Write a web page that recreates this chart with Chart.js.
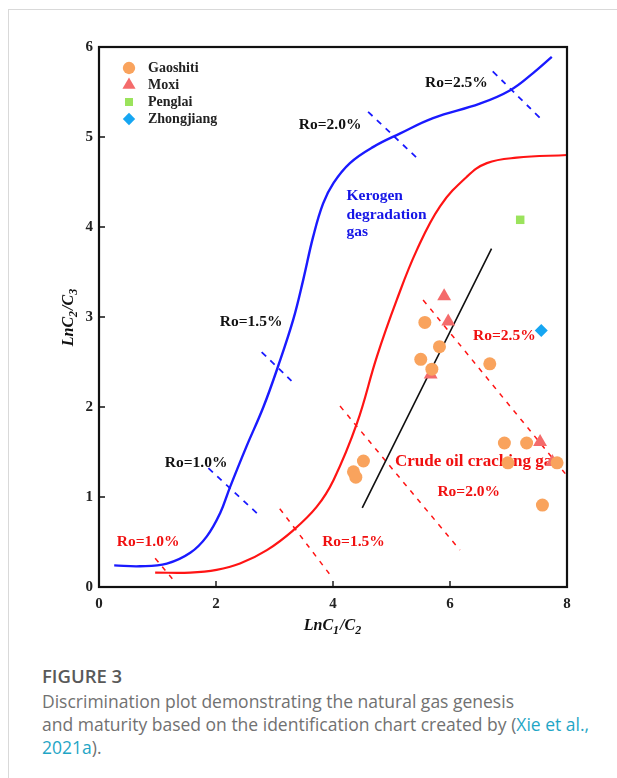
<!DOCTYPE html>
<html>
<head>
<meta charset="utf-8">
<script src="https://cdn.jsdelivr.net/npm/chart.js@4.4.0/dist/chart.umd.min.js"></script>
<style>
  body { margin: 0; background: #fff; width: 617px; height: 778px; overflow: hidden; position: relative; }
  .frame { position: absolute; left: 8px; top: 9px; width: 640px; height: 800px; border-top: 1px solid #d9d9d9; border-left: 1px solid #d9d9d9; }
  #plot { position: absolute; left: 0; top: 0; }
  .caption { position: absolute; left: 42px; top: 664px; width: 575px; font-family: "Open Sans", sans-serif; color: #717171; font-size: 17.5px; line-height: 23px; white-space: nowrap; }
  .caption .fig { color: #595959; font-size: 18.5px; font-weight: 600; margin-bottom: 3px; }
  .caption a { color: #1fa6c6; text-decoration: none; }
</style>
</head>
<body>
<div class="frame"></div>
<canvas id="plot" width="617" height="640"></canvas>
<div class="caption">
  <div class="fig">FIGURE 3</div>
  Discrimination plot demonstrating the natural gas genesis<br>
  and maturity based on the identification chart created by (<a href="#">Xie et al.,<br>2021a</a>).
</div>

<script>
// sample points, [LnC1/C2, LnC2/C3]
const gaoshiti = [
  [5.57, 2.94], [5.82, 2.67], [5.50, 2.53], [5.69, 2.42], [6.68, 2.48],
  [6.93, 1.60], [7.31, 1.60], [6.99, 1.38], [7.83, 1.38], [7.58, 0.91],
  [4.52, 1.40], [4.35, 1.28], [4.39, 1.22]
];
const moxi = [[5.90, 3.23], [5.97, 2.95], [5.67, 2.36], [7.54, 1.61], [7.75, 1.39]];
const penglai = [[7.20, 4.08]];
const zhongjiang = [[7.56, 2.85]];

// boundary curves of the identification chart
const kerogenCurve = [
  [0.26, 0.24], [0.70, 0.23], [1.16, 0.26], [1.56, 0.38], [1.84, 0.56], [2.07, 0.82],
  [2.24, 1.11], [2.52, 1.56], [2.81, 2.00], [3.06, 2.45], [3.32, 2.97], [3.49, 3.41],
  [3.66, 3.89], [3.83, 4.26], [4.01, 4.49], [4.29, 4.71], [4.69, 4.89], [5.15, 5.04],
  [5.71, 5.21], [6.51, 5.37], [7.03, 5.52], [7.42, 5.71], [7.74, 5.89]
];
const crackingCurve = [
  [0.96, 0.16], [1.56, 0.16], [2.01, 0.19], [2.41, 0.26], [2.87, 0.41], [3.32, 0.63],
  [3.72, 0.89], [4.01, 1.19], [4.41, 1.82], [4.75, 2.56], [5.09, 3.19], [5.43, 3.74],
  [5.83, 4.23], [6.29, 4.56], [6.63, 4.71], [7.14, 4.77], [8.00, 4.80]
];
const trendLine = [[4.50, 0.88], [6.71, 3.76]];

// Ro iso-maturity ticks across each curve
const roKerogen = [
  [[1.87, 1.32], [2.70, 0.82]],
  [[2.78, 2.61], [3.29, 2.29]],
  [[4.60, 5.28], [5.43, 4.77]],
  [[6.73, 5.73], [7.54, 5.21]]
];
const roCracking = [
  [[0.96, 0.32], [1.28, 0.07]],
  [[3.09, 0.87], [3.98, 0.11]],
  [[4.12, 2.01], [6.17, 0.41]],
  [[5.54, 3.19], [7.97, 1.26]]
];

const xTicks = [0, 2, 4, 6, 8];
const yTicks = [0, 1, 2, 3, 4, 5, 6];

// text annotations: [text, x, y, colour, align, size]
const notes = [
  ['Ro=2.5%', 6.11, 5.60, '#111', 'center', 15.5],
  ['Ro=2.0%', 3.95, 5.13, '#111', 'center', 15.5],
  ['Ro=1.5%', 2.60, 2.94, '#111', 'center', 15.5],
  ['Ro=1.0%', 1.66, 1.38, '#111', 'center', 15.5],
  ['Ro=1.0%', 0.84, 0.50, '#f01010', 'center', 15.5],
  ['Ro=1.5%', 4.35, 0.50, '#f01010', 'center', 15.5],
  ['Ro=2.0%', 6.32, 1.06, '#f01010', 'center', 15.5],
  ['Ro=2.5%', 6.93, 2.79, '#f01010', 'center', 15.5],
  ['Crude oil cracking gas', 5.06, 1.39, '#f01010', 'left', 17],
  ['Kerogen', 4.23, 4.34, '#1515e6', 'left', 15.5],
  ['degradation', 4.23, 4.13, '#1515e6', 'left', 15.5],
  ['gas', 4.23, 3.95, '#1515e6', 'left', 15.5]
];

const BLUE = '#1a1aff';
const RED = '#ff1414';
const serif = '"Liberation Serif", "Times New Roman", serif';

const pts = arr => arr.map(([x, y]) => ({ x, y }));

const markers = [
  { label: 'Gaoshiti', data: gaoshiti, style: 'circle', r: 6.5, color: '#f9a35d' },
  { label: 'Moxi', data: moxi, style: 'triangle', r: 8, color: '#f46b6b' },
  { label: 'Penglai', data: penglai, style: 'rect', r: 6, color: '#9be35c' },
  { label: 'Zhongjiang', data: zhongjiang, style: 'rectRot', r: 6.5, color: '#16a6f2' }
];

const datasets = markers.map(m => ({
  label: m.label,
  data: pts(m.data),
  pointStyle: m.style,
  pointRadius: m.r,
  backgroundColor: m.color,
  borderColor: m.color,
  borderWidth: 0
}));

function curve(data, color, width, dash) {
  return {
    data: pts(data), showLine: true, pointRadius: 0, borderColor: color,
    borderWidth: width, borderDash: dash || [], tension: 0.4, fill: false
  };
}

datasets.push(curve(kerogenCurve, BLUE, 2.4));
datasets.push(curve(crackingCurve, RED, 2.2));
datasets.push(curve(trendLine, '#111', 1.6));
roKerogen.forEach(seg => datasets.push(curve(seg, BLUE, 1.8, [6, 6])));
roCracking.forEach(seg => datasets.push(curve(seg, RED, 1.5, [5, 6])));

// notes sit under the sample markers
const notesLayer = {
  id: 'notes',
  beforeDatasetsDraw(chart) {
    const { ctx, scales: { x, y } } = chart;
    ctx.save();
    ctx.textBaseline = 'middle';
    notes.forEach(([t, nx, ny, c, al, sz]) => {
      ctx.font = 'bold ' + sz + 'px ' + serif;
      ctx.fillStyle = c;
      ctx.textAlign = al;
      ctx.fillText(t, x.getPixelForValue(nx), y.getPixelForValue(ny));
    });
    ctx.restore();
  }
};

// frame, inward ticks, axis titles and legend
const decor = {
  id: 'decor',
  afterDatasetsDraw(chart) {
    const { ctx, chartArea: a, scales: { x, y } } = chart;
    ctx.save();
    ctx.strokeStyle = '#111';
    ctx.lineWidth = 2.2;
    ctx.strokeRect(a.left, a.top, a.right - a.left, a.bottom - a.top);
    ctx.lineWidth = 1.4;
    ctx.beginPath();
    xTicks.slice(1, -1).forEach(v => {
      const px = x.getPixelForValue(v);
      ctx.moveTo(px, a.bottom); ctx.lineTo(px, a.bottom - 6);
    });
    yTicks.slice(1, -1).forEach(v => {
      const py = y.getPixelForValue(v);
      ctx.moveTo(a.left, py); ctx.lineTo(a.left + 6, py);
    });
    ctx.stroke();

    // legend
    ctx.textBaseline = 'middle';
    ctx.textAlign = 'left';
    ctx.font = 'bold 14px ' + serif;
    markers.forEach((m, i) => {
      const ly = a.top + 21 + i * 17;
      ctx.fillStyle = m.color;
      Chart.helpers.drawPoint(ctx, { pointStyle: m.style, radius: m.r * 0.95, borderWidth: 0 }, a.left + 30, ly);
      ctx.fillStyle = '#222';
      ctx.fillText(m.label, a.left + 49, ly);
    });

    // axis titles with subscripts
    axisTitle(ctx, [['LnC', ''], ['1', 'sub'], ['/C', ''], ['2', 'sub']], (a.left + a.right) / 2, a.bottom + 38, 0);
    axisTitle(ctx, [['LnC', ''], ['2', 'sub'], ['/C', ''], ['3', 'sub']], a.left - 31, (a.top + a.bottom) / 2, -Math.PI / 2);
    ctx.restore();
  }
};

function axisTitle(ctx, parts, cx, cy, rot) {
  const big = 'italic bold 16px ' + serif;
  const small = 'italic bold 12px ' + serif;
  let w = 0;
  parts.forEach(([t, k]) => { ctx.font = k ? small : big; w += ctx.measureText(t).width + (k ? 1 : 0); });
  ctx.save();
  ctx.translate(cx, cy);
  ctx.rotate(rot);
  ctx.fillStyle = '#111';
  ctx.textAlign = 'left';
  ctx.textBaseline = 'alphabetic';
  let px = -w / 2;
  parts.forEach(([t, k]) => {
    ctx.font = k ? small : big;
    ctx.fillText(t, px, k ? 9 : 5);
    px += ctx.measureText(t).width + (k ? 1 : 0);
  });
  ctx.restore();
}

const tickFont = { family: serif, weight: 'bold', size: 15 };

new Chart(document.getElementById('plot'), {
  type: 'scatter',
  data: { datasets },
  options: {
    responsive: false,
    animation: false,
    events: [],
    layout: { padding: { left: 0, right: 50, top: 47, bottom: 0 } },
    plugins: { legend: { display: false }, tooltip: { enabled: false } },
    scales: {
      x: {
        type: 'linear', min: 0, max: 8,
        afterFit(s) { s.height = 53; },
        afterBuildTicks(s) { s.ticks = xTicks.map(v => ({ value: v })); },
        ticks: { color: '#222', font: tickFont, padding: 8 },
        grid: { display: false, drawTicks: false },
        border: { display: false }
      },
      y: {
        type: 'linear', min: 0, max: 6,
        afterFit(s) { s.width = 99; },
        afterBuildTicks(s) { s.ticks = yTicks.map(v => ({ value: v })); },
        ticks: { color: '#222', font: tickFont, padding: 6 },
        grid: { display: false, drawTicks: false },
        border: { display: false }
      }
    }
  },
  plugins: [notesLayer, decor]
});
</script>
</body>
</html>
